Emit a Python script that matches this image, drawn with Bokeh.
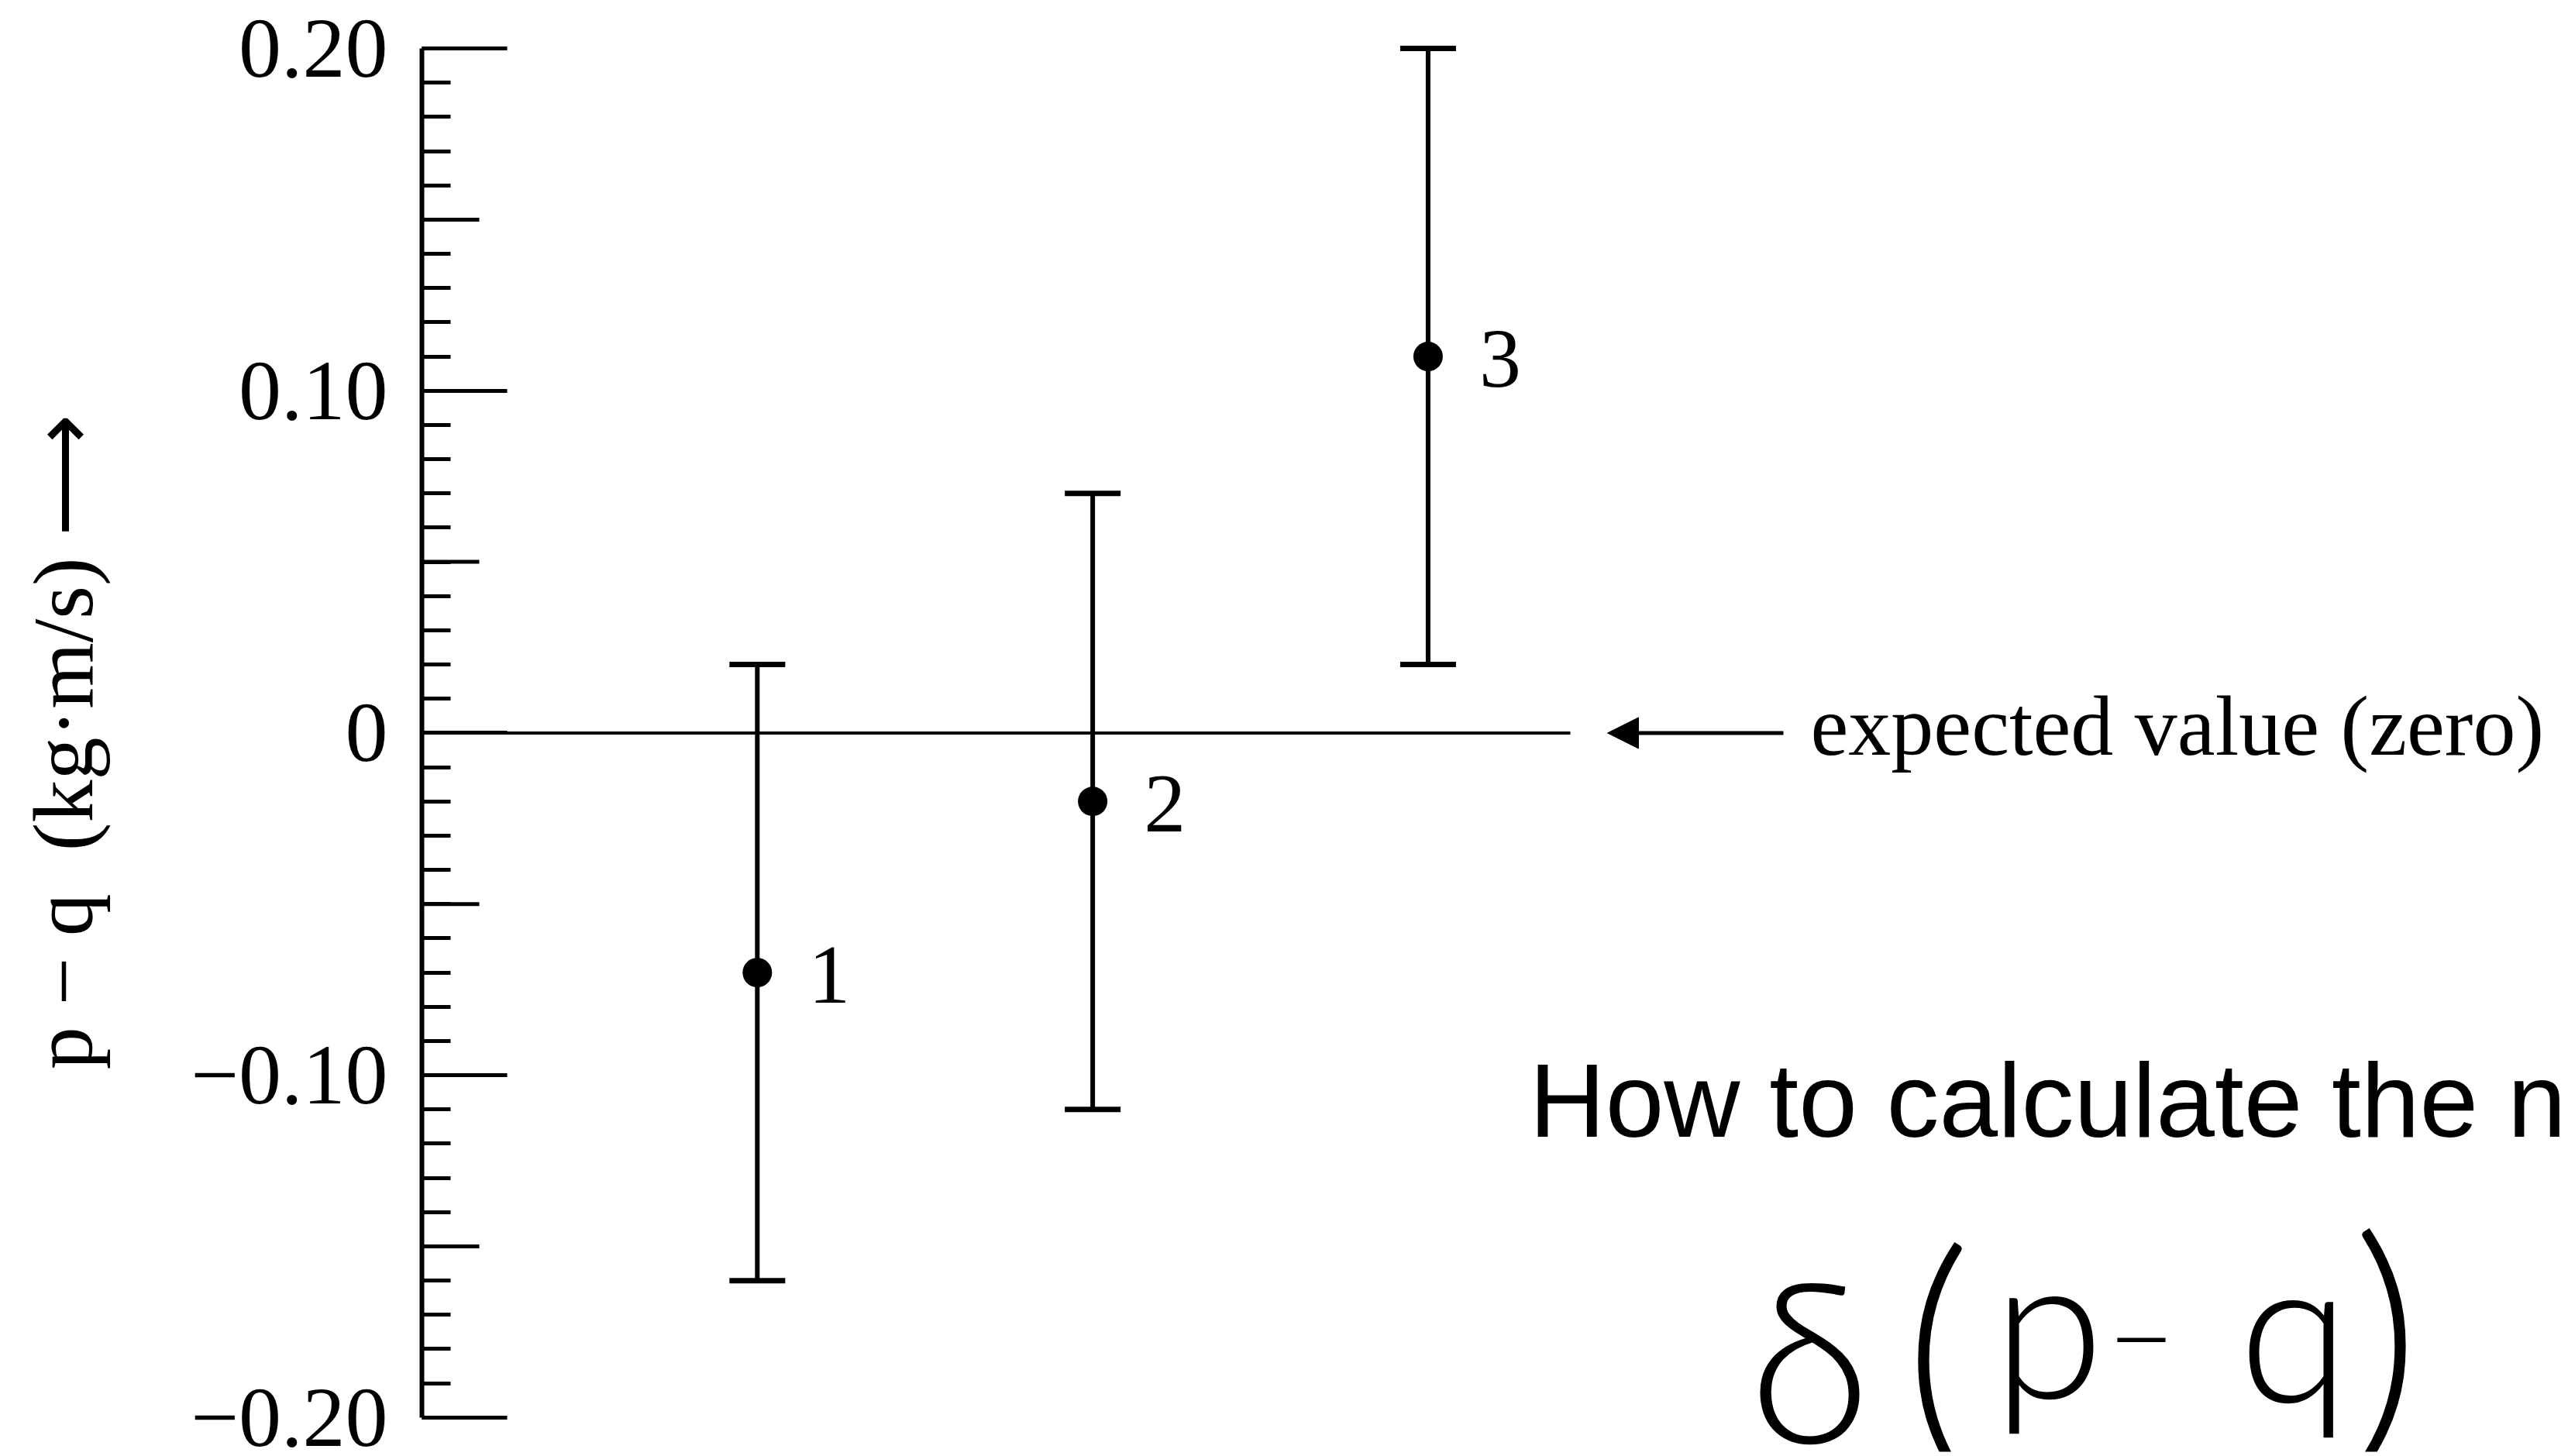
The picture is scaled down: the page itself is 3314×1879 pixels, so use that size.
from bokeh.core.properties import value
from bokeh.embed import file_html
from bokeh.models import (Arrow, ColumnDataSource, FixedTicker, Label,
                          NormalHead, Range1d, TeeHead, Whisker)
from bokeh.plotting import figure
from bokeh.resources import INLINE

# ---- data -------------------------------------------------------------
TRIALS = [1, 2, 3]
POINT_LABELS = ["1", "2", "3"]
DIFF = [-0.07, -0.02, 0.11]          # p - q  (kg·m/s)
UNCERT = [0.09, 0.09, 0.09]          # ± uncertainty of p - q
EXPECTED = 0.0                       # expected value of p - q

MAJOR_TICKS = [-0.2, -0.1, 0.0, 0.1, 0.2]
MAJOR_LABELS = ["\u22120.20", "\u22120.10", "0", "0.10", "0.20"]
MID_TICKS = [-0.15, -0.05, 0.05, 0.15]
MINOR_TICKS = [round(-0.2 + 0.01 * i, 2) for i in range(41)]

Y_TITLE = "p \u2212 q\u2002(kg\u00b7m/s) \u27f6"

# ---- geometry ---------------------------------------------------------
W, H = 3314, 1879
LEFT, TOP, BOTTOM = 544, 40, 1873
Y_LO, Y_HI = -0.21, 0.205
X_MAX = 6.4
PX_X = (W - LEFT) / X_MAX
PX_Y = (BOTTOM - TOP) / (Y_HI - Y_LO)


def dx(px):
    return (px - LEFT) / PX_X


def dy(py):
    return Y_HI - (py - TOP) / PX_Y


SERIF = "Liberation Serif"
SANS = "Liberation Sans"
HAND = "Lato Light"
INK = "#000000"

p = figure(width=W, height=H, x_range=Range1d(0, X_MAX), y_range=Range1d(Y_LO, Y_HI),
           output_backend="svg", toolbar_location=None, x_axis_location=None,
           min_border_left=LEFT, min_border_right=0, min_border_top=TOP,
           min_border_bottom=H - BOTTOM)
p.xgrid.visible = False
p.ygrid.visible = False
p.outline_line_color = None
p.background_fill_color = "white"
p.border_fill_color = "white"

# ---- y axis: ticks pointing inward ------------------------------------
ax = p.yaxis[0]
ax.ticker = FixedTicker(ticks=MAJOR_TICKS, minor_ticks=MINOR_TICKS)
ax.bounds = (MAJOR_TICKS[0], MAJOR_TICKS[-1])
ax.major_label_overrides = dict(zip(MAJOR_TICKS, MAJOR_LABELS))
ax.axis_line_width = 6
ax.axis_line_color = INK
ax.major_tick_in = 110
ax.major_tick_out = 0
ax.minor_tick_in = 37
ax.minor_tick_out = 0
ax.major_tick_line_width = 5
ax.minor_tick_line_width = 5
ax.major_tick_line_color = INK
ax.minor_tick_line_color = INK
ax.major_label_text_font = SERIF
ax.major_label_text_font_size = "110px"
ax.major_label_text_color = INK
ax.major_label_standoff = 44
ax.axis_label = Y_TITLE
ax.axis_label_text_font = SERIF
ax.axis_label_text_font_size = "110px"
ax.axis_label_text_font_style = "normal"
ax.axis_label_text_color = INK
ax.axis_label_standoff = 100

# medium ticks at the half steps
p.ray(x=[0] * len(MID_TICKS), y=MID_TICKS, length=74, angle=0,
      length_units="screen", line_width=5, line_color=INK)

# ---- reference line at the expected value -----------------------------
p.segment(x0=[0], y0=[EXPECTED], x1=[dx(2026)], y1=[EXPECTED],
          line_width=4, line_color=INK)

# ---- measurements with error bars -------------------------------------
src = ColumnDataSource(dict(
    trial=TRIALS,
    diff=DIFF,
    lower=[d - u for d, u in zip(DIFF, UNCERT)],
    upper=[d + u for d, u in zip(DIFF, UNCERT)],
    label=POINT_LABELS,
))
whisk = Whisker(base="trial", lower="lower", upper="upper", source=src,
                dimension="height", line_width=6, line_color=INK,
                upper_head=TeeHead(size=72, line_width=7, line_color=INK),
                lower_head=TeeHead(size=72, line_width=7, line_color=INK))
p.add_layout(whisk)
p.scatter(x="trial", y="diff", source=src, size=38, marker="circle",
          fill_color=INK, line_color=None)
p.text(x="trial", y="diff", text="label", source=src, x_offset=66, y_offset=3,
       text_align="left", text_baseline="middle", text_font=value(SERIF),
       text_font_size="108px", text_color=INK)

# ---- "expected value" pointer ----------------------------------------
p.add_layout(Arrow(x_start=dx(2301), y_start=EXPECTED, x_end=dx(2074), y_end=EXPECTED,
                   line_width=5, line_color=INK,
                   end=NormalHead(size=40, fill_color=INK, line_color=INK, line_width=1)))
p.add_layout(Label(x=dx(2336), y=dy(936), text="expected value (zero)",
                   text_font=SERIF, text_font_size="110px", text_color=INK,
                   text_align="left", text_baseline="middle"))

# ---- note and handwritten formula --------------------------------------
p.add_layout(Label(x=dx(1973), y=dy(1419), text="How to calculate the n",
                   text_font=SANS, text_font_size="136px", text_color=INK,
                   text_align="left", text_baseline="middle"))
for txt, cx, cy, size in [("\u03b4", 2335, 1750, "290px"), ("(", 2500, 1730, "340px"),
                          ("p", 2643, 1703, "260px"), ("\u2212", 2763, 1726, "150px"),
                          ("q", 2960, 1708, "260px"), (")", 3079, 1712, "340px")]:
    p.add_layout(Label(x=dx(cx), y=dy(cy), text=txt, text_font=HAND,
                       text_font_size=size, text_color=INK,
                       text_align="center", text_baseline="middle"))

open("out.html", "w").write(file_html(p, INLINE))
